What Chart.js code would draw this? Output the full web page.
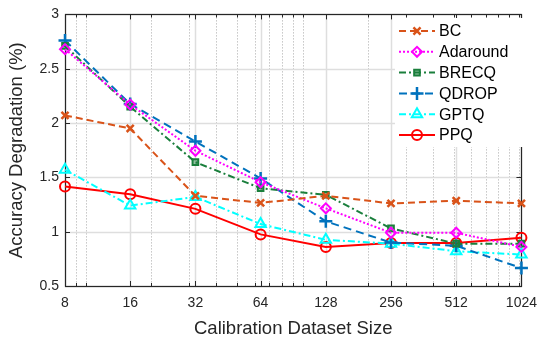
<!DOCTYPE html>
<html>
<head>
<meta charset="utf-8">
<script src="https://cdn.jsdelivr.net/npm/chart.js@4.4.1/dist/chart.umd.min.js"></script>
<style>
html,body{margin:0;padding:0;background:#fff;}
#wrap{width:546px;height:341px;position:relative;}
</style>
</head>
<body>
<div id="wrap"><canvas id="c" width="546" height="341"></canvas></div>
<script>
// ---- data ----
const sizes = [8, 16, 32, 64, 128, 256, 512, 1024];
const minorTicks = [9, 10, 20, 30, 40, 50, 60, 70, 80, 90, 100, 200, 300, 400, 500, 600, 700, 800, 900, 1000];
const yTicks = [0.5, 1, 1.5, 2, 2.5, 3];
const seriesNames = ['BC', 'Adaround', 'BRECQ', 'QDROP', 'GPTQ', 'PPQ'];
const bc       = [2.07, 1.95, 1.33, 1.265, 1.33, 1.26, 1.285, 1.26];
const adaround = [2.68, 2.17, 1.745, 1.455, 1.215, 0.99, 0.99, 0.86];
const brecq    = [2.71, 2.15, 1.64, 1.40, 1.34, 1.03, 0.89, 0.89];
const qdrop    = [2.76, 2.175, 1.83, 1.49, 1.095, 0.90, 0.87, 0.665];
const gptq     = [1.57, 1.24, 1.32, 1.07, 0.925, 0.89, 0.82, 0.79];
const ppq      = [1.415, 1.345, 1.21, 0.975, 0.86, 0.895, 0.895, 0.945];

const FONT = "'Liberation Sans', Arial, Helvetica, sans-serif";
const TXT = '#262626';

const styles = [
  {color:'#D95319', dash:[7,4], point:'crossRot', r:5, pw:2.5, fill:'rgba(0,0,0,0)'},
  {color:'#FF00FF', dash:[2,2], point:'rectRot', r:5, pw:2, fill:'rgba(0,0,0,0)'},
  {color:'#1A7F3C', dash:[7,3,2,3], point:'rect', r:4, pw:2, fill:'rgba(26,127,60,0.45)'},
  {color:'#0072BD', dash:[8,5], point:'cross', r:6.5, pw:2.5, fill:'rgba(0,0,0,0)'},
  {color:'#00FFFF', dash:[7,3,2,3], point:'triangle', r:6, pw:2, fill:'rgba(0,0,0,0)'},
  {color:'#FF0000', dash:[], point:'circle', r:5, pw:2, fill:'rgba(0,0,0,0)'}
];
const values = [bc, adaround, brecq, qdrop, gptq, ppq];

const datasets = values.map((vals, i) => ({
  label: seriesNames[i],
  data: sizes.map((s, j) => ({x: s, y: vals[j]})),
  borderColor: styles[i].color,
  backgroundColor: styles[i].color,
  borderWidth: 2,
  borderDash: styles[i].dash,
  pointStyle: styles[i].point,
  pointRadius: styles[i].r,
  pointBorderWidth: styles[i].pw,
  pointBorderColor: styles[i].color,
  pointBackgroundColor: styles[i].fill,
  tension: 0,
  clip: false
}));

function drawMarker(ctx, st, x, y) {
  const opts = {pointStyle: st.point, radius: st.r, borderWidth: st.pw, rotation: 0};
  ctx.save();
  ctx.strokeStyle = st.color;
  ctx.fillStyle = st.fill;
  ctx.lineWidth = st.pw;
  ctx.setLineDash([]);
  if (Chart.helpers && Chart.helpers.drawPoint) {
    Chart.helpers.drawPoint(ctx, opts, x, y);
  }
  ctx.restore();
}

const framePlugin = {
  id: 'frame',
  beforeDatasetsDraw(chart) {
    const {ctx, chartArea: a, scales: {x, y}} = chart;
    ctx.save();
    // minor dotted grid
    ctx.strokeStyle = '#a8a8a8';
    ctx.lineWidth = 1;
    ctx.setLineDash([1, 2]);
    minorTicks.forEach(v => {
      const px = Math.round(x.getPixelForValue(v)) + 0.5;
      ctx.beginPath(); ctx.moveTo(px, a.top); ctx.lineTo(px, a.bottom); ctx.stroke();
    });
    ctx.setLineDash([]);
    // major grid
    ctx.strokeStyle = '#dedede';
    ctx.lineWidth = 1.5;
    sizes.forEach(v => {
      const px = Math.round(x.getPixelForValue(v)) + 0.5;
      ctx.beginPath(); ctx.moveTo(px, a.top); ctx.lineTo(px, a.bottom); ctx.stroke();
    });
    yTicks.forEach(v => {
      const py = Math.round(y.getPixelForValue(v)) + 0.5;
      ctx.beginPath(); ctx.moveTo(a.left, py); ctx.lineTo(a.right, py); ctx.stroke();
    });
    // inside ticks
    ctx.strokeStyle = TXT;
    ctx.lineWidth = 1;
    const tickX = (v, len) => {
      const px = Math.round(x.getPixelForValue(v)) + 0.5;
      ctx.beginPath(); ctx.moveTo(px, a.bottom); ctx.lineTo(px, a.bottom - len); ctx.stroke();
      ctx.beginPath(); ctx.moveTo(px, a.top); ctx.lineTo(px, a.top + len); ctx.stroke();
    };
    sizes.forEach(v => tickX(v, 5));
    minorTicks.forEach(v => tickX(v, 3));
    yTicks.forEach(v => {
      const py = Math.round(y.getPixelForValue(v)) + 0.5;
      ctx.beginPath(); ctx.moveTo(a.left, py); ctx.lineTo(a.left + 5, py); ctx.stroke();
      ctx.beginPath(); ctx.moveTo(a.right, py); ctx.lineTo(a.right - 5, py); ctx.stroke();
    });
    // box
    ctx.strokeStyle = TXT;
    ctx.lineWidth = 1.2;
    ctx.strokeRect(Math.round(a.left) + 0.5, Math.round(a.top) + 0.5, Math.round(a.right - a.left), Math.round(a.bottom - a.top));
    ctx.restore();
  },
  afterDatasetsDraw(chart) {
    const {ctx} = chart;
    ctx.save();
    // legend box (white, no border)
    ctx.fillStyle = '#ffffff';
    ctx.fillRect(395, 18, 131, 129);
    const y0 = 31, step = 20.8;
    styles.forEach((st, i) => {
      const yy = y0 + i * step;
      ctx.strokeStyle = st.color;
      ctx.lineWidth = 2;
      ctx.setLineDash(st.dash);
      ctx.beginPath(); ctx.moveTo(399, yy); ctx.lineTo(435, yy); ctx.stroke();
      ctx.setLineDash([]);
      drawMarker(ctx, st, 417, yy);
      ctx.fillStyle = '#000';
      ctx.font = '16px ' + FONT;
      ctx.textBaseline = 'middle';
      ctx.textAlign = 'left';
      ctx.fillText(seriesNames[i], 439, yy + 1);
    });
    ctx.restore();
  }
};

new Chart(document.getElementById('c'), {
  type: 'line',
  data: {datasets},
  options: {
    responsive: false,
    animation: false,
    devicePixelRatio: 1,
    layout: {padding: {top: 9, right: 15, left: 0, bottom: 0}},
    plugins: {legend: {display: false}, tooltip: {enabled: false}},
    scales: {
      x: {
        type: 'logarithmic',
        min: 8, max: 1024,
        grid: {display: false, drawTicks: false},
        border: {display: false},
        afterBuildTicks: (scale) => {
          scale.ticks = sizes.map(v => ({value: v}));
        },
        afterFit: (scale) => { scale.height = 55; },
        ticks: {
          autoSkip: false, maxRotation: 0, padding: 9,
          color: TXT, font: {family: FONT, size: 14},
          callback: (v) => sizes.includes(v) ? String(v) : ''
        },
        title: {display: true, text: 'Calibration Dataset Size', color: TXT,
                font: {family: FONT, size: 18.5}, padding: {top: 0, bottom: 1}}
      },
      y: {
        type: 'linear',
        min: 0.5, max: 3,
        grid: {display: false, drawTicks: false},
        border: {display: false},
        afterBuildTicks: (scale) => {
          scale.ticks = yTicks.map(v => ({value: v}));
        },
        afterFit: (scale) => { scale.width = 65; },
        ticks: {
          padding: 6, color: TXT, font: {family: FONT, size: 14},
          callback: (v) => String(v)
        },
        title: {display: true, text: 'Accuracy Degradation (%)', color: TXT,
                font: {family: FONT, size: 18.5}, padding: {top: 6, bottom: 0}}
      }
    }
  },
  plugins: [framePlugin]
});
</script>
</body>
</html>
